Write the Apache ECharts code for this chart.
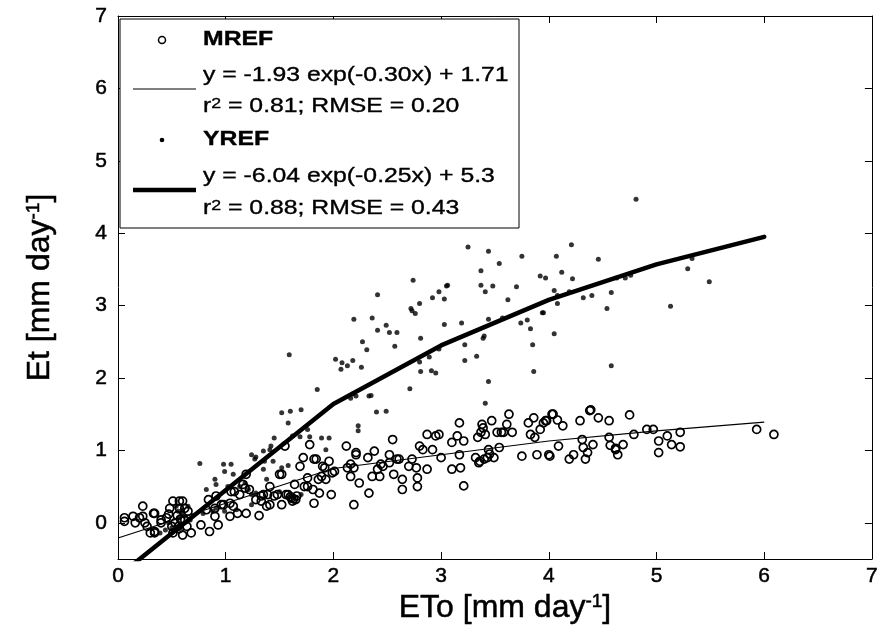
<!DOCTYPE html>
<html>
<head>
<meta charset="utf-8">
<script src="https://cdn.jsdelivr.net/npm/echarts@6/dist/echarts.min.js"></script>
<style>html,body{margin:0;padding:0;background:#fff;}#c{width:881px;height:632px;}</style>
</head>
<body>
<div id="c"></div>
<script>
// ---- data ----
const xTicks = [0, 1, 2, 3, 4, 5, 6, 7];
const yTicks = [0, 1, 2, 3, 4, 5, 6, 7];

const mref = [
[0.06,0.02],[0.14,0.09],[0.23,0.09],[0.23,0.23],[0.34,0.13],[0.16,0.0],[0.27,-0.05],[0.30,-0.14],[0.34,-0.12],[0.40,0.0],[0.45,0.07],[0.50,-0.05],[0.51,-0.14],[0.56,-0.05],[0.51,0.30],[0.57,0.20],[0.60,0.30],[0.62,0.04],[0.64,-0.05],[0.60,-0.17],[0.68,-0.14],[0.65,0.16],[0.06,0.07],[0.20,0.07],[0.25,0.0],[0.33,0.13],[0.34,-0.14],[0.40,0.04],[0.48,0.20],[0.57,0.30],[0.55,0.10],[0.58,0.05],[0.62,0.20],[0.53,0.0],[0.57,-0.08],[0.47,0.12],
[0.77,-0.03],[0.85,-0.12],[0.93,-0.03],[0.84,0.32],[0.91,0.37],[0.82,0.18],[0.90,0.20],[0.98,0.25],[1.04,0.09],[1.05,0.43],[1.11,0.13],[1.19,0.13],[1.13,0.39],[1.18,0.48],[1.19,0.67],[1.31,0.10],[1.28,0.32],[1.38,0.23],[1.41,0.50],[1.35,0.39],[1.45,0.37],[1.52,0.25],[1.52,0.67],[1.55,1.06],[1.56,0.39],[1.61,0.34],[1.65,0.32],[1.64,0.53],[1.69,0.78],[1.72,0.90],[1.73,0.50],[1.78,1.08],[1.76,0.62],[1.81,0.46],[1.82,0.27],[1.84,0.88],[1.86,0.60],[1.87,0.41],[1.89,0.64],[1.92,0.76],[1.93,0.60],[1.96,0.85],[1.98,0.39],[2.01,0.71],
[0.90,0.09],[0.96,0.25],[1.04,0.27],[1.08,0.43],[1.07,0.23],[1.16,0.53],[1.22,0.46],[1.33,0.30],[1.33,0.37],[1.41,0.25],[1.48,0.39],[1.39,0.39],[1.50,0.67],[1.58,0.39],[1.62,0.30],[1.60,0.36],[1.66,0.37],[1.63,0.33],[1.99,0.69],[1.90,0.78],[1.76,0.50],[1.82,0.88],
[2.12,1.06],[2.13,0.76],[2.19,0.76],[2.19,0.25],[2.21,0.94],[2.24,0.55],[2.32,0.90],[2.33,0.41],[2.38,0.99],[2.36,0.64],[2.41,0.74],[2.46,0.78],[2.52,0.83],[2.55,1.15],[2.56,0.67],[2.61,0.88],[2.64,0.46],[2.64,0.60],[2.70,0.78],[2.73,0.88],[2.77,0.76],[2.78,0.62],[2.78,0.50],[2.80,1.06],[2.83,1.01],[2.87,0.74],[2.87,1.22],[2.92,1.01],[2.95,1.20],[2.98,1.22],[3.00,0.90],[2.16,0.81],[2.16,0.64],[2.21,0.97],[2.44,0.81],[2.43,0.64],[2.52,0.94],[2.59,0.88],
[3.10,1.11],[3.10,0.74],[3.15,1.20],[3.17,1.38],[3.17,0.94],[3.18,0.76],[3.21,1.13],[3.21,0.51],[3.32,0.90],[3.34,1.18],[3.35,0.83],[3.37,1.25],[3.38,1.36],[3.40,0.88],[3.41,1.22],[3.43,0.90],[3.44,1.01],[3.47,1.41],[3.49,0.90],[3.52,1.25],[3.54,1.04],[3.58,1.25],[3.61,1.36],[3.63,1.50],[3.66,1.25],[3.75,0.92],[3.81,1.38],[3.83,1.22],[3.86,1.45],[3.87,1.18],[3.89,0.94],[3.92,1.29],[3.95,1.38],[3.98,1.41],[4.01,0.92],[4.03,1.50],[3.36,0.85],[3.45,0.95],[3.56,1.25],[3.39,1.31],
[3.97,1.41],[4.04,1.50],[4.08,1.42],[4.13,1.34],[4.00,0.94],[4.09,1.06],[4.19,0.88],[4.23,0.94],[4.29,1.41],[4.31,1.15],[4.32,1.04],[4.34,0.88],[4.36,0.97],[4.38,1.55],[4.41,1.08],[4.46,1.45],[4.56,1.41],[4.56,1.18],[4.57,1.07],[4.62,1.01],[4.64,0.94],[4.69,1.08],[4.75,1.49],[4.79,1.22],[4.91,1.29],[4.97,1.29],[5.02,1.13],[5.02,0.97],[5.10,1.20],[5.14,1.08],[5.22,1.25],[5.22,1.05],[5.93,1.29],[6.09,1.22],[4.39,1.56],[4.62,1.03]
];

const yref = [
[4.81,4.47],[3.25,3.81],[3.44,3.75],[4.21,3.84],[3.75,3.68],[4.07,3.68],[3.54,3.58],[4.46,3.64],[3.37,3.48],[4.12,3.46],[3.92,3.41],[3.97,3.38],[2.74,3.35],[4.22,3.37],[3.05,3.27],[3.37,3.28],[3.48,3.27],[3.70,3.26],[2.98,3.19],[2.92,3.11],[3.03,3.09],[3.41,3.19],[3.62,3.08],[4.05,3.21],[4.08,3.14],[4.19,3.19],[4.32,3.11],[4.40,3.14],[4.58,3.18],[4.54,2.96],[2.41,3.15],[2.80,3.03],[2.72,2.96],[2.76,2.89],[2.73,2.93],[2.19,2.81],[2.36,2.83],[2.41,2.66],[2.49,2.73],[2.52,2.63],[2.59,2.63],[2.57,2.44],[3.03,2.74],[3.19,2.76],[3.95,2.90],[3.83,2.68],[3.74,2.76],[3.80,2.80],[4.08,3.03],[2.81,2.55],[3.39,2.55],[3.22,2.46],[2.98,2.40],[2.27,2.50],[2.31,2.39],[2.02,2.26],[2.07,2.12],[2.13,2.17],[2.18,2.24],[2.26,2.15],[2.80,2.22],[2.89,2.29],[2.81,2.09],[2.91,2.10],[2.95,2.07],[3.22,2.24],[3.33,2.30],[3.44,1.95],[3.86,2.09],[3.85,2.46],[4.05,2.61],[4.58,2.17],[2.71,1.85],[2.33,1.75],[2.18,1.78],[1.85,1.84],[4.71,3.38],[4.76,3.42],[4.63,3.38],[5.13,2.99],[5.29,3.51],[5.33,3.65],[5.49,3.33],[1.59,2.32],[2.08,2.21],[2.16,1.72],[2.21,1.75],[2.35,1.76],[1.52,1.52],[1.60,1.54],[1.70,1.56],[2.40,1.53],[2.49,1.54],[2.23,1.34],[1.58,1.38],[3.06,3.28],[3.40,2.58],[3.44,2.81],[3.57,2.83],[3.94,2.90],[3.41,1.65],[2.23,1.27],
[1.62,1.20],[1.69,1.19],[1.76,1.29],[1.78,1.19],[1.89,1.17],[1.96,1.17],[1.93,1.01],[1.45,1.17],[1.41,1.01],[1.36,0.85],[1.44,0.85],[1.35,0.74],[1.38,0.60],[1.52,0.76],[1.58,0.79],[0.76,0.82],[0.98,0.81],[0.99,0.71],[1.05,0.81],[1.07,0.67],[1.27,0.88],[1.28,0.91],[0.90,0.60],[0.82,0.46],[0.91,0.53],[1.02,0.50],[1.13,0.50],[1.21,0.46],[1.18,0.55],[1.28,0.41],[1.24,0.39],[1.24,0.25],[1.70,0.39],[1.50,0.43],[0.54,0.23],[0.56,0.16],[0.59,0.13],[0.62,0.09],[0.47,0.0],[0.50,-0.07],[0.44,-0.1],[0.39,-0.14],[0.56,0.07],[0.60,0.18],[0.67,0.04],[0.65,0.23],[0.88,0.16],[0.91,0.20],[0.99,0.16],[1.10,0.18],[0.79,0.13],[1.42,1.06],[1.35,0.99],[1.24,0.94]
];

// fitted curves
const fitX = [0, 2, 3, 4, 5, 6];
const mrefFitY = [-0.21, 0.75, 0.94, 1.13, 1.27, 1.39];
const yrefFitY = [-0.74, 1.64, 2.45, 3.08, 3.57, 3.95];

const legendLabels = {
  m: 'MREF',
  mEq: 'y = -1.93 exp(-0.30x) + 1.71',
  mStat: 'r{sup|2} = 0.81; RMSE = 0.20',
  y: 'YREF',
  yEq: 'y = -6.04 exp(-0.25x) + 5.3',
  yStat: 'r{sup|2} = 0.88; RMSE = 0.43'
};

// ---- chart ----
const FONT = 'Liberation Sans, Arial, sans-serif';
const chart = echarts.init(document.getElementById('c'), null, {renderer: 'canvas'});
const heavy = {textBorderColor: '#000', textBorderWidth: 0.5};
const axisBase = {
  axisLine: {show: true, onZero: false, lineStyle: {color: '#000', width: 1}},
  splitLine: {show: false},
  axisTick: {show: true, inside: true, length: 7, lineStyle: {color: '#000'}}
};
const legX = 120, legY = 19, legW = 399, legH = 209;
const textStyleL = (t, y, bold) => ({
  type: 'text', x: 203, y: y, z: 101, scaleX: 1.27, scaleY: 1,
  style: {text: t, fontFamily: FONT, fontSize: 19.5, fontWeight: bold ? 'bold' : 'normal', fill: '#000', verticalAlign: 'middle',
    stroke: '#000', lineWidth: 0.35,
    rich: {sup: {fontSize: 14, lineHeight: 14, verticalAlign: 'top', fontFamily: FONT, fill: '#000', stroke: '#000', lineWidth: 0.3}}}
});
const supAxis = {sup: Object.assign({fontSize: 19, lineHeight: 19, verticalAlign: 'top', fontFamily: FONT, color: '#000'}, heavy)};

chart.setOption({
  animation: false,
  backgroundColor: '#fff',
  grid: {left: 118, right: 7, top: 16, bottom: 73, containLabel: false},
  xAxis: [
    Object.assign({}, axisBase, {
      type: 'value', min: 0, max: 7, interval: 1, position: 'bottom',
      axisLabel: Object.assign({show: true, margin: 7, fontSize: 21, fontFamily: FONT, color: '#000', customValues: xTicks}, heavy),
      axisTick: Object.assign({}, axisBase.axisTick, {customValues: xTicks}),
      name: 'ETo [mm day{sup|-1}]', nameLocation: 'middle', nameGap: 33,
      nameTextStyle: Object.assign({fontSize: 32, fontFamily: FONT, color: '#000', padding: [0, 0, 0, 20], rich: supAxis}, heavy)
    }),
    Object.assign({}, axisBase, {
      type: 'value', min: 0, max: 7, interval: 1, position: 'top',
      axisLabel: {show: false},
      axisTick: Object.assign({}, axisBase.axisTick, {customValues: xTicks})
    })
  ],
  yAxis: [
    Object.assign({}, axisBase, {
      type: 'value', min: -0.5, max: 7, position: 'left',
      axisLabel: Object.assign({show: true, margin: 11, fontSize: 21, fontFamily: FONT, color: '#000', customValues: yTicks}, heavy),
      axisTick: Object.assign({}, axisBase.axisTick, {customValues: yTicks}),
      name: 'Et [mm day{sup|-1}]', nameLocation: 'middle', nameGap: 62, nameRotate: 90,
      nameTextStyle: Object.assign({fontSize: 32, fontFamily: FONT, color: '#000', rich: supAxis}, heavy)
    }),
    Object.assign({}, axisBase, {
      type: 'value', min: -0.5, max: 7, position: 'right',
      axisLabel: {show: false},
      axisTick: Object.assign({}, axisBase.axisTick, {customValues: yTicks})
    })
  ],
  series: [
    {
      name: 'MREF', type: 'scatter', xAxisIndex: 0, yAxisIndex: 0, data: mref,
      symbol: 'circle', symbolSize: 8,
      itemStyle: {color: 'rgba(0,0,0,0)', borderColor: '#000', borderWidth: 1.7, opacity: 1},
      z: 2, silent: true
    },
    {
      name: 'MREF fit', type: 'line', xAxisIndex: 0, yAxisIndex: 0,
      data: fitX.map((x, i) => [x, mrefFitY[i]]),
      showSymbol: false, symbol: 'none', lineStyle: {color: '#000', width: 1.2}, z: 3, clip: true, silent: true
    },
    {
      name: 'YREF', type: 'scatter', xAxisIndex: 0, yAxisIndex: 0, data: yref,
      symbol: 'circle', symbolSize: 5, itemStyle: {color: '#000'}, z: 4, silent: true
    },
    {
      name: 'YREF fit', type: 'line', xAxisIndex: 0, yAxisIndex: 0,
      data: fitX.map((x, i) => [x, yrefFitY[i]]),
      showSymbol: false, symbol: 'none', lineStyle: {color: '#000', width: 4.5, cap: 'round', join: 'round'}, z: 5, clip: true, silent: true
    }
  ],
  graphic: [
    {type: 'rect', z: 100, shape: {x: legX, y: legY, width: legW, height: legH},
     style: {fill: '#fff', stroke: '#000', lineWidth: 1}},
    {type: 'circle', z: 101, shape: {cx: 162, cy: 40, r: 3.5}, style: {fill: 'none', stroke: '#000', lineWidth: 1.5}},
    textStyleL(legendLabels.m, 40, true),
    {type: 'line', z: 101, shape: {x1: 133, y1: 89, x2: 196, y2: 89}, style: {stroke: '#000', lineWidth: 1.2}},
    textStyleL(legendLabels.mEq, 76, false),
    textStyleL(legendLabels.mStat, 107, false),
    {type: 'circle', z: 101, shape: {cx: 162, cy: 140, r: 2.3}, style: {fill: '#000'}},
    textStyleL(legendLabels.y, 140, true),
    {type: 'line', z: 101, shape: {x1: 133, y1: 190, x2: 196, y2: 190}, style: {stroke: '#000', lineWidth: 4.5}},
    textStyleL(legendLabels.yEq, 177, false),
    textStyleL(legendLabels.yStat, 209, false)
  ]
});
</script>
</body>
</html>
